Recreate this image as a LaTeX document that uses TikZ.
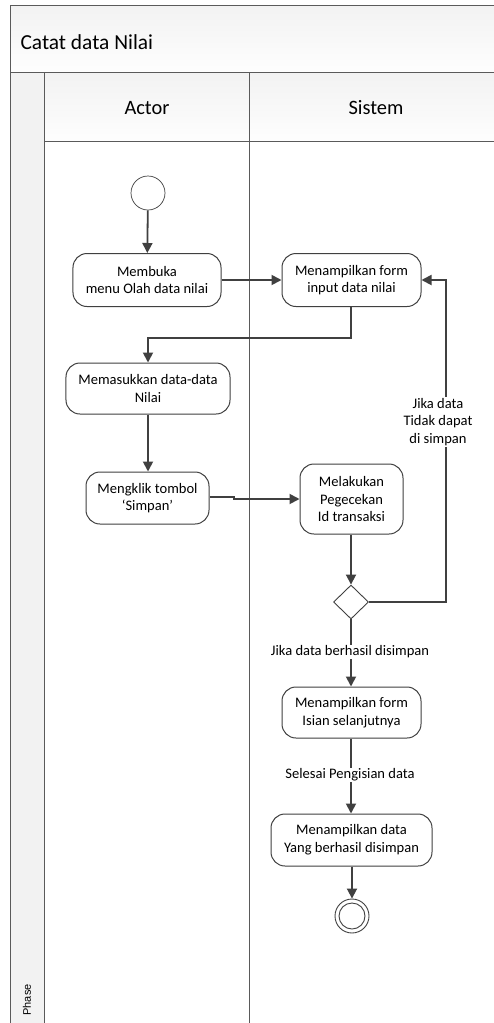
\documentclass[tikz,border=0pt]{standalone}
\usepackage{fontspec}
\setmainfont{Carlito}
\newfontfamily\phasefont{Liberation Sans}
\usetikzlibrary{arrows.meta,shapes.geometric}
\definecolor{lanegray}{HTML}{5A5A5A}
\definecolor{flowgray}{HTML}{404040}
\definecolor{headfill}{HTML}{F2F2F2}
\tikzset{
  act/.style={draw=flowgray, line width=1bp, rectangle, rounded corners=14bp, align=center,
    font=\fontsize{14.6}{17.8}\selectfont, inner sep=2bp, fill=white},
  flow/.style={draw=flowgray, line width=1.8bp, -{Triangle[length=10bp,width=10bp]}},
  flowline/.style={draw=flowgray, line width=1.8bp},
  lbl/.style={fill=white, align=center, font=\fontsize{14.6}{17.8}\selectfont, inner sep=1bp},
  lane/.style={draw=lanegray, line width=0.9bp},
}
\begin{document}
\begin{tikzpicture}[x=1bp,y=-1bp]
\useasboundingbox (0,0) rectangle (494,1023);
\clip (0,0) rectangle (494,1023);
% pool background
\fill[white] (0,0) rectangle (494,1023);
\shade[top color=headfill, bottom color=white!90!headfill] (10,5) rectangle (500,72);
\shade[top color=headfill, bottom color=white!90!headfill] (44,72) rectangle (500,141);
\fill[headfill] (10,72) rectangle (44,1030);
\draw[lane] (500,5) -- (10,5) -- (10,1030);
\draw[lane] (10,72) -- (500,72);
\draw[lane] (44,72) -- (44,1030);
\draw[lane] (44,141) -- (500,141);
\draw[lane] (249,72) -- (249,1030);
\node[anchor=west, font=\fontsize{21.5}{24}\selectfont] (title) at (17,42) {Catat data Nilai};
\node[font=\fontsize{20.5}{24}\selectfont] (actor) at (147,108) {Actor};
\node[font=\fontsize{20.5}{24}\selectfont] (sistem) at (376,108) {Sistem};
\node[rotate=90, anchor=west, font=\phasefont\fontsize{11}{12}\selectfont] (phase) at (27,1019) {Phase};
% nodes
\node[draw=flowgray, line width=0.7bp, circle, minimum size=34bp, inner sep=0pt, fill=white] (start) at (148,193) {};
\node[act, minimum width=148bp, minimum height=53bp] (membuka) at (147,280) {Membuka\\menu Olah data nilai};
\node[act, minimum width=139bp, minimum height=53bp] (form) at (351.5,280) {Menampilkan form\\input data nilai};
\node[act, minimum width=164bp, minimum height=51bp] (masuk) at (148,388.5) {Memasukkan data-data\\Nilai};
\node[act, minimum width=123bp, minimum height=52bp] (klik) at (147.5,498) {Mengklik tombol\\`Simpan'};
\node[act, minimum width=103bp, minimum height=70bp] (cek) at (351.5,499) {Melakukan\\Pegecekan\\Id transaksi};
\node[draw=flowgray, line width=0.9bp, diamond, minimum width=35bp, minimum height=34bp, inner sep=0pt, fill=white] (dec) at (351,602) {};
\node[act, minimum width=139bp, minimum height=51bp] (isian) at (351.5,712.5) {Menampilkan form\\Isian selanjutnya};
\node[act, minimum width=161bp, minimum height=52bp] (tampil) at (351.5,840) {Menampilkan data\\Yang berhasil disimpan};
\node[draw=flowgray, line width=0.9bp, circle, minimum size=34bp, inner sep=0pt, fill=white] (end) at (352,916) {};
\node[draw=flowgray, line width=0.9bp, circle, minimum size=26bp, inner sep=0pt] (endin) at (352,916) {};
% flows
\draw[flow] (start) -- (membuka);
\draw[flow] (membuka) -- (form);
\coordinate (c1) at (351,338);
\coordinate (c2) at (148,338);
\draw[flow] (form.south -| c1) -- (c1) -- (c2) -- (masuk.north -| c2);
\draw[flow] (masuk) -- (klik.north -| masuk);
\coordinate (k1) at (234,497);
\coordinate (k2) at (234,499);
\draw[flow] (klik.east |- k1) -- (k1) -- (k2) -- (cek.west |- k2);
\draw[flow] (cek.south -| dec) -- (dec);
\coordinate (c3) at (446,602);
\coordinate (c4) at (446,280);
\draw[flow] (dec.east) -- (c3) -- (c4) -- (form.east);
\node[lbl] (lno) at (438,422) {Jika data\\Tidak dapat\\di simpan};
\draw[flow] (dec.south) -- (isian.north -| dec);
\node[lbl] (lyes) at (350,652) {Jika data berhasil disimpan};
\draw[flow] (isian.south -| dec) -- (tampil.north -| dec);
\node[lbl] (ldone) at (350,775) {Selesai Pengisian data};
\draw[flow] (tampil.south -| end) -- (end);
\end{tikzpicture}
\end{document}
